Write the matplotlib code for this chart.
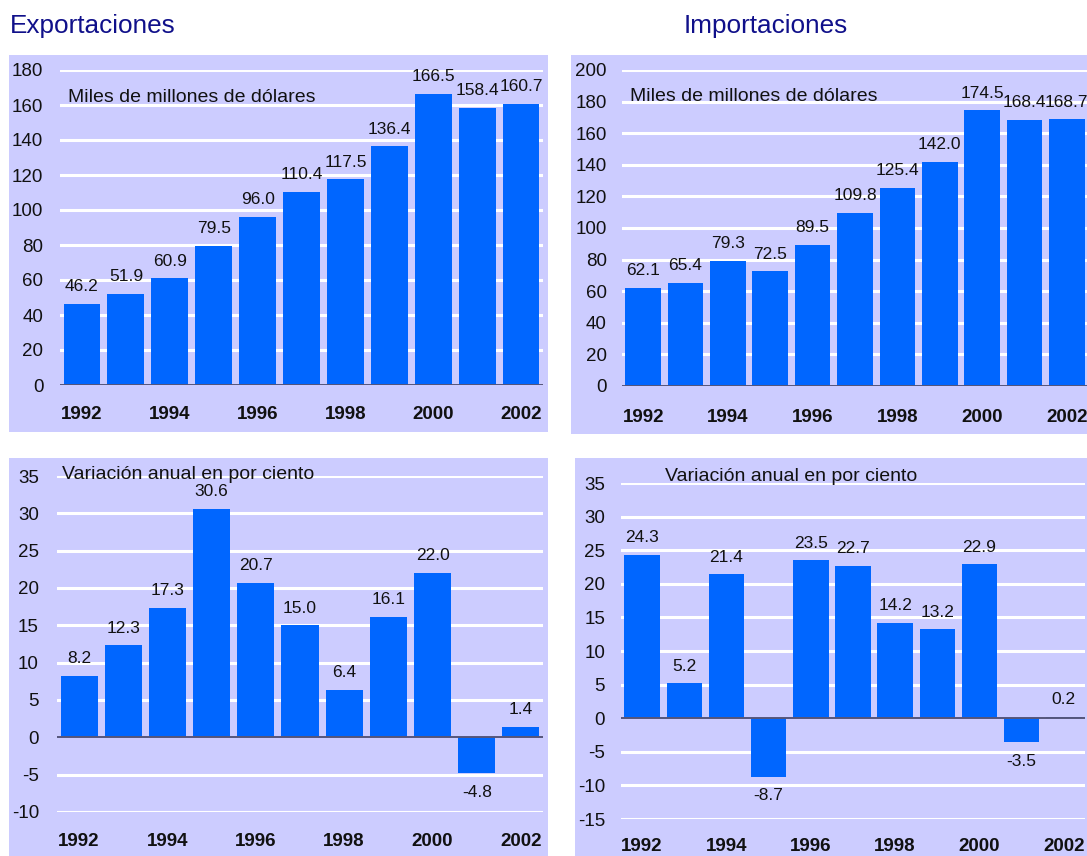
import matplotlib.pyplot as plt
from matplotlib.patches import Rectangle

plt.rcParams['font.family'] = ['Liberation Sans', 'DejaVu Sans']

years = list(range(1992, 2003))
export_values = [46.2, 51.9, 60.9, 79.5, 96.0, 110.4, 117.5, 136.4, 166.5, 158.4, 160.7]
import_values = [62.1, 65.4, 79.3, 72.5, 89.5, 109.8, 125.4, 142.0, 174.5, 168.4, 168.7]
export_growth = [8.2, 12.3, 17.3, 30.6, 20.7, 15.0, 6.4, 16.1, 22.0, -4.8, 1.4]
import_growth = [24.3, 5.2, 21.4, -8.7, 23.5, 22.7, 14.2, 13.2, 22.9, -3.5, 0.2]
year_ticks = [1992, 1994, 1996, 1998, 2000, 2002]

W, H = 1087, 856
BG = '#ccccff'
BAR = '#0066ff'
NAVY = '#10108a'
INK = '#111111'

fig = plt.figure(figsize=(W / 100, H / 100), dpi=100)


def px_rect(x0, y0, x1, y1):
    # pixel box (top-left origin) -> figure fraction [l, b, w, h]
    return [x0 / W, 1 - y1 / H, (x1 - x0) / W, (y1 - y0) / H]


def panel(x0, y0, x1, y1):
    l, b, w, h = px_rect(x0, y0, x1, y1)
    fig.patches.append(Rectangle((l, b), w, h, transform=fig.transFigure,
                                 facecolor=BG, edgecolor='none', zorder=-10))


def bar_axes(box, values, ylim, yticks, note, note_xy, ypad, xpad):
    ax = fig.add_axes(px_rect(*box))
    ax.set_facecolor('none')
    ax.bar(years, values, width=0.84, color=BAR, zorder=3)
    ax.set_xlim(1991.5, 2002.5)
    ax.set_ylim(*ylim)
    for t in yticks:
        if t != 0:
            ax.axhline(t, color='white', lw=2.2, zorder=1)
    ax.axhline(0, color='#55557a', lw=1.4, zorder=4)
    ax.set_yticks(yticks)
    ax.set_yticklabels([str(t) for t in yticks])
    ax.set_xticks(year_ticks)
    ax.set_xticklabels([str(y) for y in year_ticks], fontweight='bold')
    ax.tick_params(axis='y', length=0, pad=ypad, labelsize=13.5, labelcolor=INK)
    ax.tick_params(axis='x', length=0, pad=xpad, labelsize=13.5, labelcolor=INK)
    for s in ax.spines.values():
        s.set_visible(False)
    for x, v in zip(years, values):
        if v >= 0:
            ax.annotate(f'{v:.1f}', (x, v), xytext=(0, 7), textcoords='offset points',
                        ha='center', va='bottom', fontsize=12.5, color=INK, zorder=5)
        else:
            ax.annotate(f'{v:.1f}', (x, v), xytext=(0, -8.5), textcoords='offset points',
                        ha='center', va='top', fontsize=12.5, color=INK, zorder=5)
    ax.text(note_xy[0], note_xy[1], note, transform=ax.transAxes, fontsize=14,
            color=INK, ha='left', va='center', zorder=5)
    return ax


# background panels
panel(9, 55, 548, 432)
panel(571, 55, 1100, 434)
panel(9, 458, 548, 856)
panel(575, 458, 1100, 856)

fig.text(10 / W, 1 - 26 / H, 'Exportaciones', fontsize=18.8, color=NAVY, ha='left', va='center')
fig.text(684 / W, 1 - 26 / H, 'Importaciones', fontsize=18.8, color=NAVY, ha='left', va='center')

bar_axes((60, 70, 543, 385), export_values, (0, 180), list(range(0, 181, 20)),
         'Miles de millones de dólares', (0.017, 0.914), 12, 15)
bar_axes((622, 70, 1088, 386), import_values, (0, 200), list(range(0, 201, 20)),
         'Miles de millones de dólares', (0.017, 0.915), 11, 16.5)
bar_axes((57, 476, 543, 812), export_growth, (-10, 35), list(range(-10, 36, 5)),
         'Variación anual en por ciento', (0.01, 1.003), 13, 15)
bar_axes((621, 483, 1085, 819), import_growth, (-15, 35), list(range(-15, 36, 5)),
         'Variación anual en por ciento', (0.095, 1.02), 11.5, 14)

fig.savefig('out.png', dpi=100)
